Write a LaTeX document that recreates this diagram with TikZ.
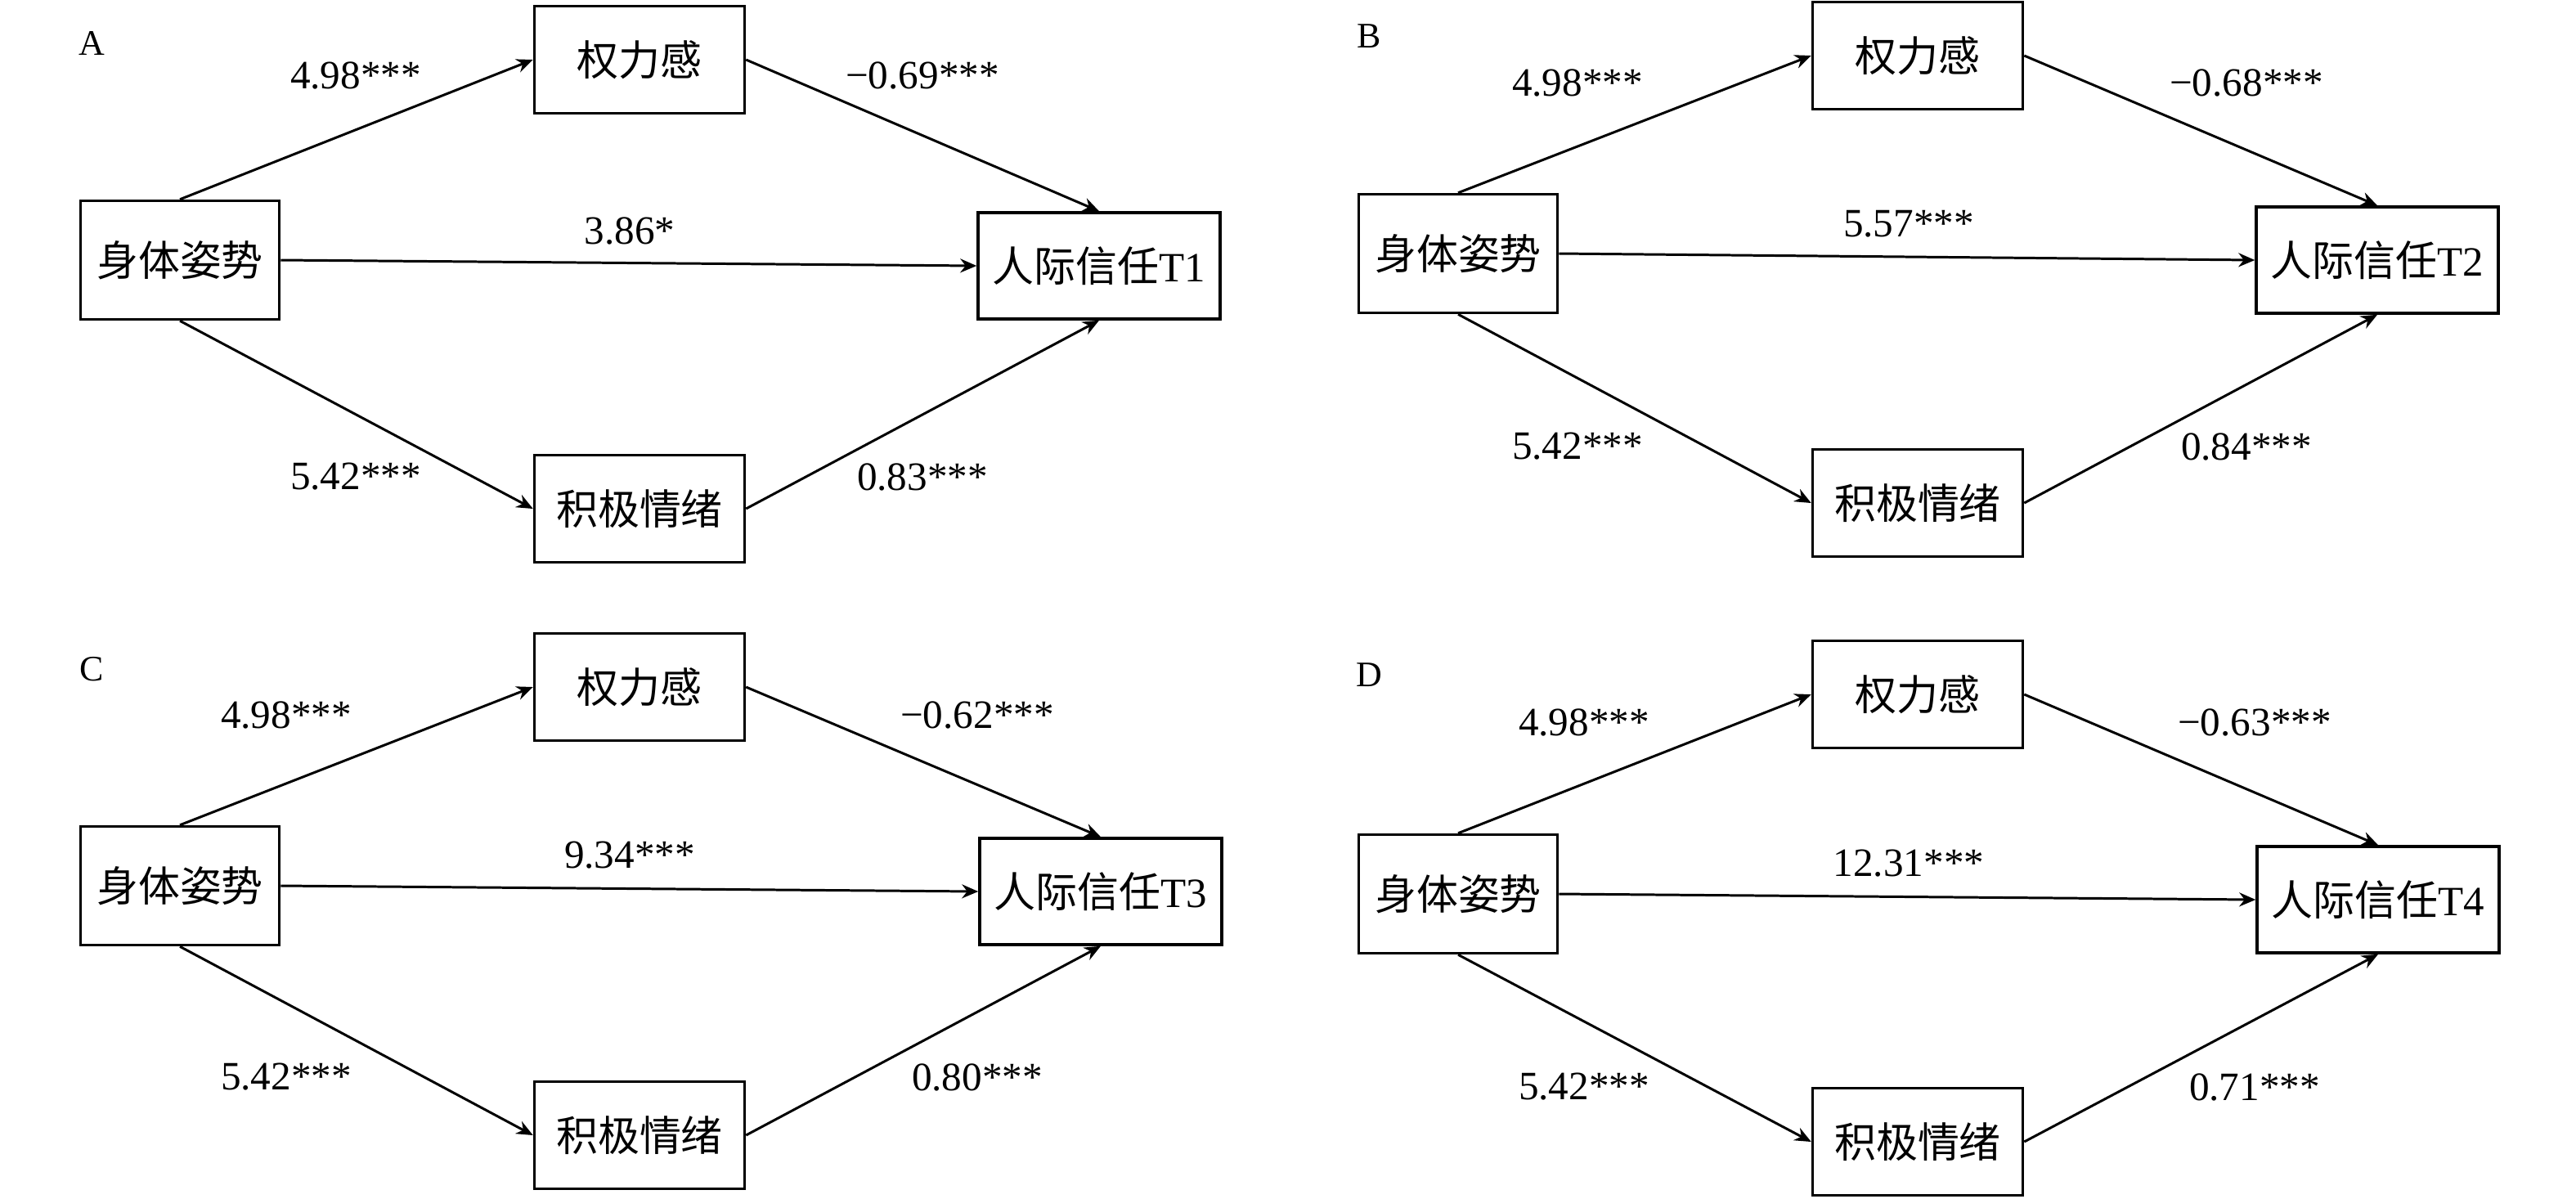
\documentclass[tikz,border=0pt]{standalone}
\usepackage{fontspec}
\setmainfont{Liberation Serif}
\newfontfamily\cjk{Noto Sans CJK SC}
\usetikzlibrary{arrows.meta}

\begin{document}
\begin{tikzpicture}[x=1cm, y=-1cm,
        box/.style={draw, line width=1pt, inner sep=0pt, font=\fontsize{14.5}{17}\selectfont},
        srcbox/.style={box, minimum width=2.43cm, minimum height=1.45cm},
        medbox/.style={box, minimum width=2.57cm, minimum height=1.31cm},
        outbox/.style={box, minimum width=2.96cm, minimum height=1.30cm},
        coef/.style={font=\fontsize{14}{16}\selectfont},
        panel_label/.style={font=\fontsize{12.5}{15}\selectfont},
        arrowline/.style={line width=0.85pt, -{Stealth[length=2mm, width=1.7mm]}}
    ]
    \useasboundingbox (0,0) rectangle (31.5,14.65);

    % Panel A
    \begin{scope}[shift={(0,0)}]
        \node[panel_label] (labA) at (1.12,0.53) {A};
        \node[medbox] (powA) at (7.82,0.73) {\cjk 权力感};
        \node[srcbox] (srcA) at (2.20,3.18) {\cjk 身体姿势};
        \node[outbox] (trustA) at (13.44,3.25) {{\cjk 人际信任}T1};
        \node[medbox] (emoA) at (7.82,6.22) {\cjk 积极情绪};

        \draw[arrowline] (srcA.north) -- (powA.west);
        \draw[arrowline] (powA.east) -- (trustA.north);
        \draw[arrowline] (srcA.east) -- (trustA.west);
        \draw[arrowline] (srcA.south) -- (emoA.west);
        \draw[arrowline] (emoA.east) -- (trustA.south);

        % Coefficienti
        \node[coef] (a1A) at (4.35,0.92) {4.98***};
        \node[coef] (b1A) at (11.28,0.92) {−0.69***};
        \node[coef] (cA) at (7.70,2.82) {3.86*};
        \node[coef] (a2A) at (4.35,5.83) {5.42***};
        \node[coef] (b2A) at (11.28,5.83) {0.83***};
    \end{scope}

    % Panel B
    \begin{scope}[shift={(15.6,0)}]
        \node[panel_label] (labB) at (1.14,0.44) {B};
        \node[medbox] (powB) at (7.85,0.68) {\cjk 权力感};
        \node[srcbox] (srcB) at (2.23,3.10) {\cjk 身体姿势};
        \node[outbox] (trustB) at (13.47,3.18) {{\cjk 人际信任}T2};
        \node[medbox] (emoB) at (7.85,6.15) {\cjk 积极情绪};

        \draw[arrowline] (srcB.north) -- (powB.west);
        \draw[arrowline] (powB.east) -- (trustB.north);
        \draw[arrowline] (srcB.east) -- (trustB.west);
        \draw[arrowline] (srcB.south) -- (emoB.west);
        \draw[arrowline] (emoB.east) -- (trustB.south);

        % Coefficienti
        \node[coef] (a1B) at (3.69,1.01) {4.98***};
        \node[coef] (b1B) at (11.87,1.01) {−0.68***};
        \node[coef] (cB) at (7.74,2.74) {5.57***};
        \node[coef] (a2B) at (3.69,5.46) {5.42***};
        \node[coef] (b2B) at (11.87,5.46) {0.84***};
    \end{scope}

    % Panel C
    \begin{scope}[shift={(0,7.4)}]
        \node[panel_label] (labC) at (1.12,0.78) {C};
        \node[medbox] (powC) at (7.82,1.00) {\cjk 权力感};
        \node[srcbox] (srcC) at (2.20,3.43) {\cjk 身体姿势};
        \node[outbox] (trustC) at (13.46,3.50) {{\cjk 人际信任}T3};
        \node[medbox] (emoC) at (7.82,6.48) {\cjk 积极情绪};

        \draw[arrowline] (srcC.north) -- (powC.west);
        \draw[arrowline] (powC.east) -- (trustC.north);
        \draw[arrowline] (srcC.east) -- (trustC.west);
        \draw[arrowline] (srcC.south) -- (emoC.west);
        \draw[arrowline] (emoC.east) -- (trustC.south);

        % Coefficienti
        \node[coef] (a1C) at (3.50,1.34) {4.98***};
        \node[coef] (b1C) at (11.95,1.34) {−0.62***};
        \node[coef] (cC) at (7.70,3.06) {9.34***};
        \node[coef] (a2C) at (3.50,5.77) {5.42***};
        \node[coef] (b2C) at (11.95,5.77) {0.80***};
    \end{scope}

    % Panel D
    \begin{scope}[shift={(15.6,7.4)}]
        \node[panel_label] (labD) at (1.14,0.85) {D};
        \node[medbox] (powD) at (7.85,1.09) {\cjk 权力感};
        \node[srcbox] (srcD) at (2.23,3.53) {\cjk 身体姿势};
        \node[outbox] (trustD) at (13.48,3.60) {{\cjk 人际信任}T4};
        \node[medbox] (emoD) at (7.85,6.56) {\cjk 积极情绪};

        \draw[arrowline] (srcD.north) -- (powD.west);
        \draw[arrowline] (powD.east) -- (trustD.north);
        \draw[arrowline] (srcD.east) -- (trustD.west);
        \draw[arrowline] (srcD.south) -- (emoD.west);
        \draw[arrowline] (emoD.east) -- (trustD.south);

        % Coefficienti
        \node[coef] (a1D) at (3.77,1.43) {4.98***};
        \node[coef] (b1D) at (11.97,1.43) {−0.63***};
        \node[coef] (cD) at (7.74,3.16) {12.31***};
        \node[coef] (a2D) at (3.77,5.89) {5.42***};
        \node[coef] (b2D) at (11.97,5.89) {0.71***};
    \end{scope}
\end{tikzpicture}
\end{document}
